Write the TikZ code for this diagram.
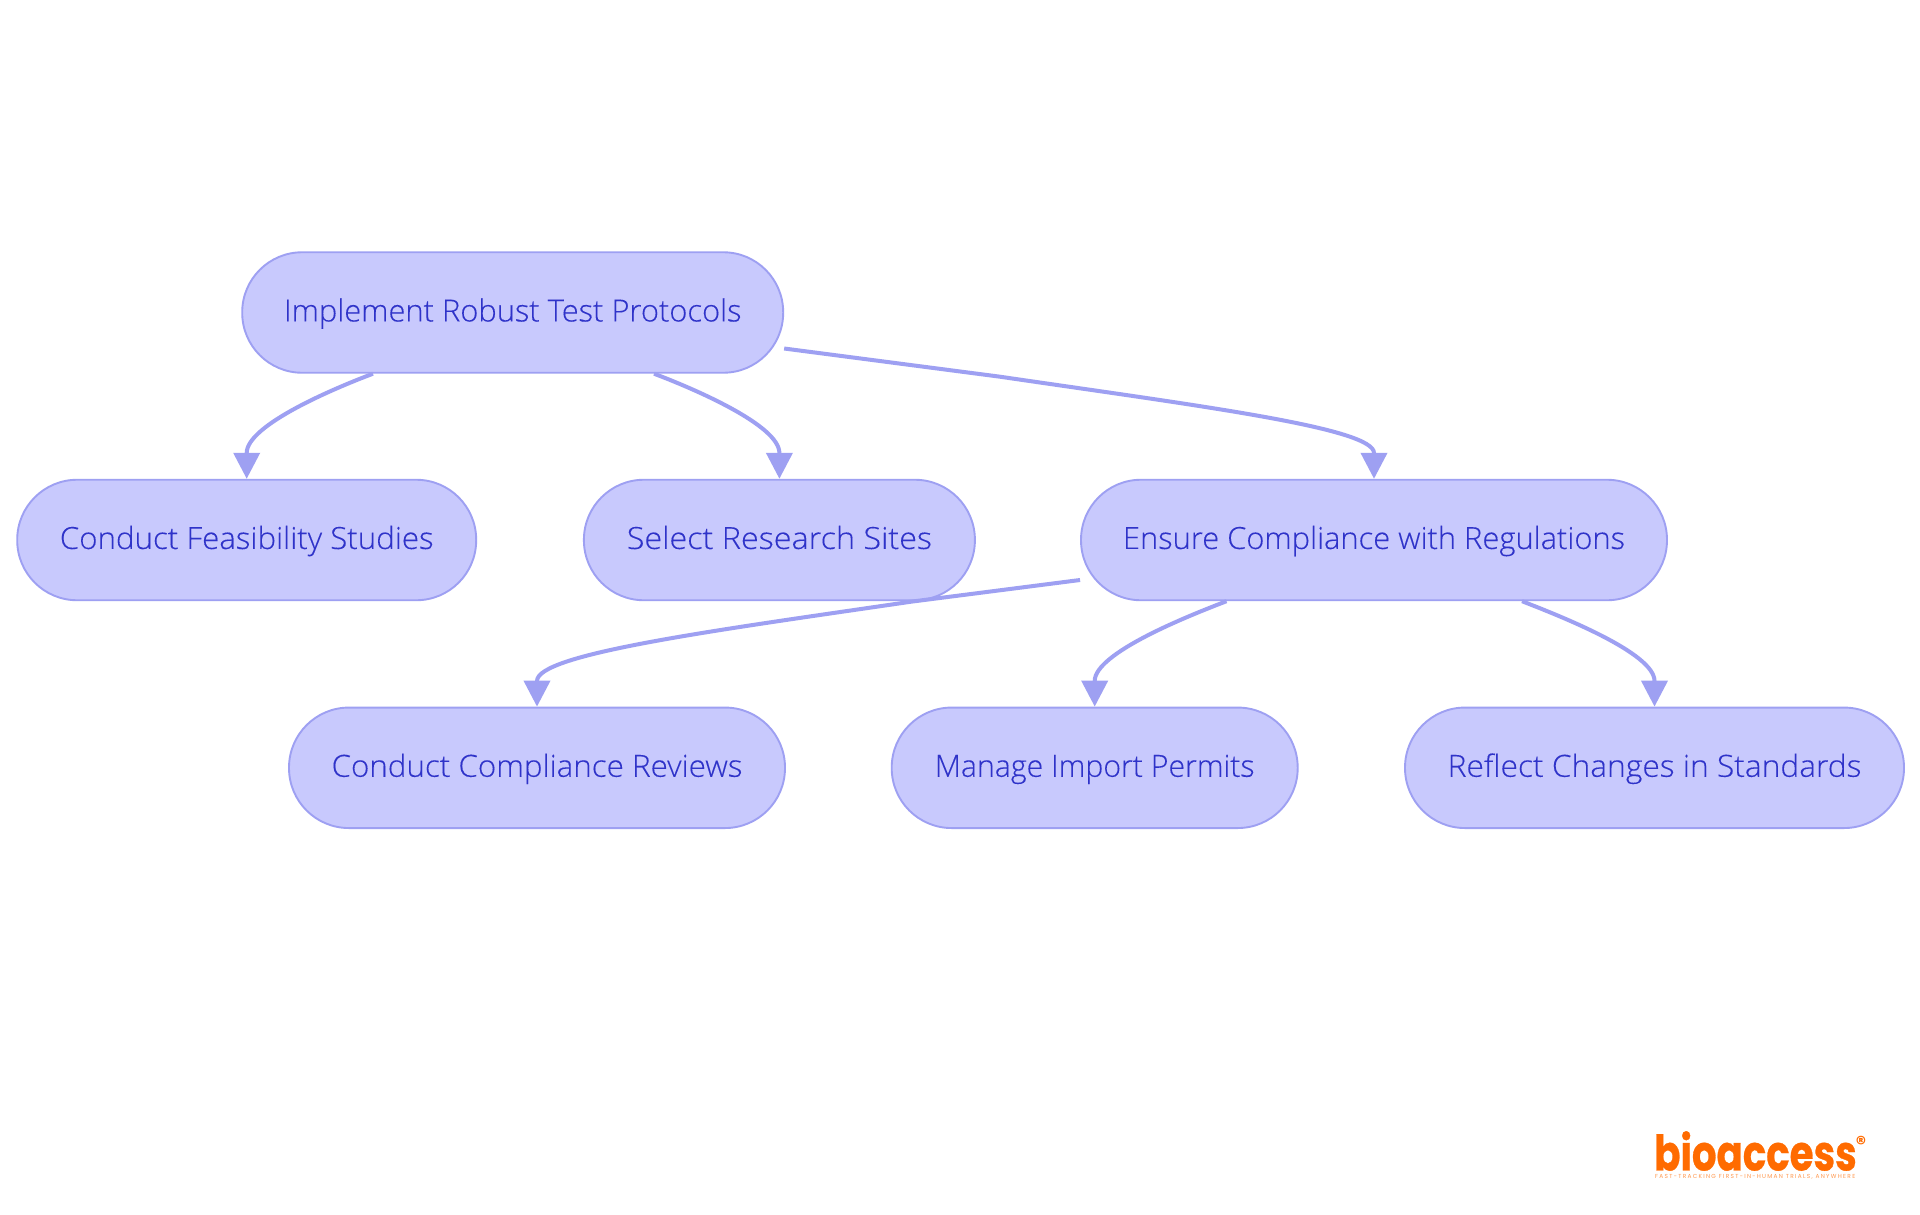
\documentclass[tikz,border=0pt]{standalone}
\usepackage{fontspec}
\setmainfont[FakeBold=0.2]{Open Sans Light}
\newfontfamily\logofont[FakeBold=0.7]{Poppins}
\newfontfamily\regfont{Poppins}
\newfontfamily\tagfont[LetterSpace=22.5]{Poppins}
\usetikzlibrary{arrows.meta}
\definecolor{nodefill}{HTML}{C8C9FD}
\definecolor{edgecol}{HTML}{9EA0F2}
\definecolor{txtcol}{HTML}{2F33C9}
\definecolor{logocol}{HTML}{FF6B00}
\newcommand{\lbl}[2]{\scalebox{#1}[1]{#2}}
\tikzset{
  pill/.style={draw=edgecol,fill=nodefill,line width=1.9pt,rounded corners=60pt,minimum height=120.5pt,inner sep=0pt,text=txtcol,text height=23.9pt,text depth=6pt,font=\fontsize{30.5}{34}\selectfont},
  link/.style={draw=edgecol,line width=4pt,-{Triangle[length=26pt,width=26pt]}},
}
\begin{document}
\begin{tikzpicture}[x=1pt,y=-1pt]
\useasboundingbox (0,0) rectangle (1920,1215);
\fill[white] (0,0) rectangle (1920,1215);
\node[pill,minimum width=541pt] (top) at (512.7,312.5) {\lbl{1.012}{Implement Robust Test Protocols}};
\node[pill,minimum width=459pt] (feas) at (246.7,540) {\lbl{1.025}{Conduct Feasibility Studies}};
\node[pill,minimum width=391pt] (sel) at (779.4,540) {\lbl{1.06}{Select Research Sites}};
\node[pill,minimum width=586pt] (ens) at (1374,540) {\lbl{1.012}{Ensure Compliance with Regulations}};
\node[pill,minimum width=496pt] (comp) at (537,767.8) {\lbl{1.027}{Conduct Compliance Reviews}};
\node[pill,minimum width=406pt] (man) at (1094.7,767.8) {\lbl{0.991}{Manage Import Permits}};
\node[pill,minimum width=499pt] (refl) at (1654.5,767.8) {\lbl{1.04}{Reflect Changes in Standards}};
\draw[link] ([xshift=-139.7pt]top.south) .. controls (335,388) and (246.7,425) .. (246.7,453) -- (feas.north);
\draw[link] ([xshift=141.3pt]top.south) .. controls (692,388) and (779.4,425) .. (779.4,453) -- (sel.north);
\draw[link] ([yshift=-36pt]top.east) -- (1000,376.7) .. controls (1200,406) and (1374,428) .. (1374,453) -- (ens.north);
\draw[link] ([yshift=-40pt]ens.west) -- (911,601.7) .. controls (711,631) and (537,654) .. (537,681) -- (comp.north);
\draw[link] ([xshift=-147.5pt]ens.south) .. controls (1188,616) and (1094.7,653) .. (1094.7,681) -- (man.north);
\draw[link] ([xshift=148pt]ens.south) .. controls (1560,616) and (1654.5,653) .. (1654.5,681) -- (refl.north);
\node[anchor=west,inner sep=0pt,text=logocol,font=\logofont\bfseries\fontsize{49}{50}\selectfont] (logo) at (1654,1151) {\scalebox{0.79}[1]{bioaccess}};
\node[inner sep=0pt,text=logocol,font=\regfont\bfseries\fontsize{20}{20}\selectfont] (reg) at (1861,1143) {®};
\node[anchor=west,inner sep=0pt,text=logocol!70,font=\tagfont\fontsize{5.8}{6}\selectfont] (tag) at (1655,1177) {FAST-TRACKING FIRST-IN-HUMAN TRIALS, ANYWHERE};
\end{tikzpicture}
\end{document}
